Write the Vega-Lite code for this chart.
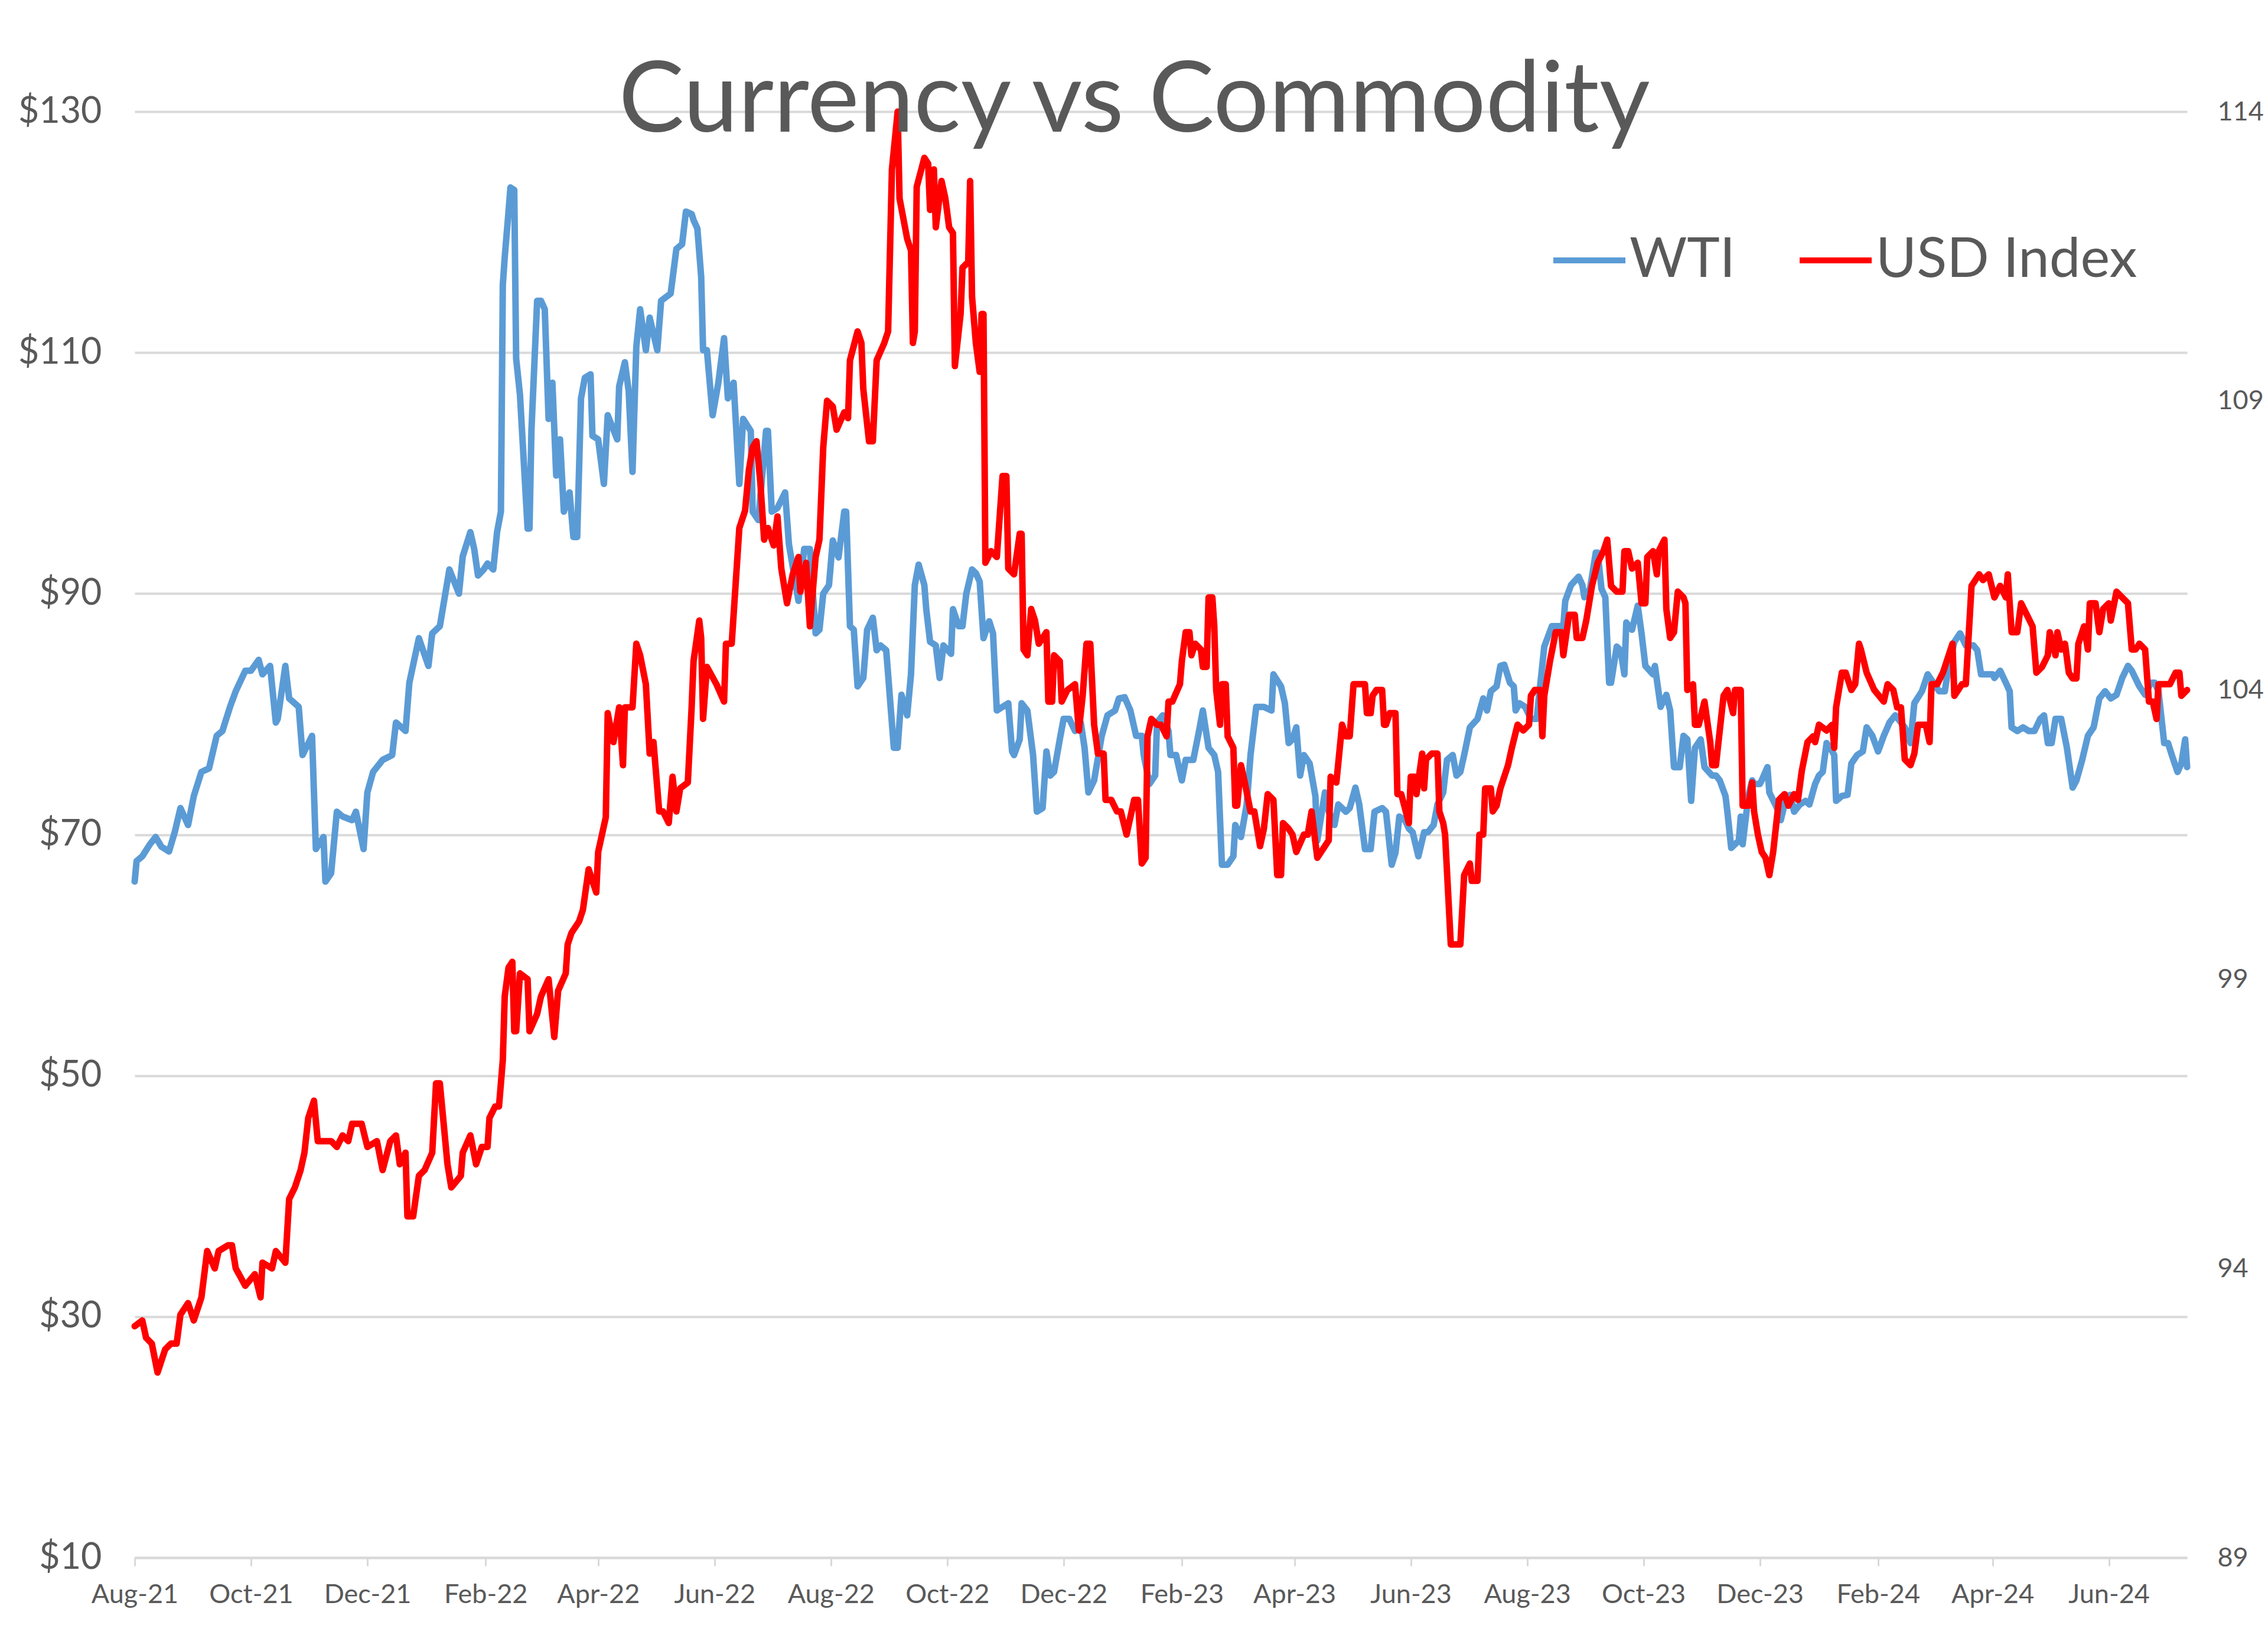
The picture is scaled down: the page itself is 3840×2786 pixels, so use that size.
{
"$schema": "https://vega.github.io/schema/vega-lite/v6.json",
"width": 3475,
"height": 2449,
"autosize": {"type": "none"},
"padding": {"left": 228, "top": 189, "right": 137, "bottom": 148},
"background": "white",
"config": {"view": {"stroke": null}, "font": "Lato"},
"title": {"text": "Currency vs Commodity", "fontSize": 166, "font": "Lato", "fontWeight": "normal", "color": "#595959", "anchor": "middle", "frame": "group", "baseline": "alphabetic", "offset": -36, "dx": -45, "dy": 195},
"datasets": {
"wti": [
{"date":"2021-08-01","value":66.1},{"date":"2021-08-02","value":67.8},{"date":"2021-08-05","value":68.2},{"date":"2021-08-09","value":69.2},{"date":"2021-08-12","value":69.8},{"date":"2021-08-15","value":69.0},{"date":"2021-08-19","value":68.6},{"date":"2021-08-22","value":70.2},{"date":"2021-08-25","value":72.2},{"date":"2021-08-29","value":70.8},
{"date":"2021-09-01","value":73.2},{"date":"2021-09-05","value":75.2},{"date":"2021-09-09","value":75.5},{"date":"2021-09-13","value":78.2},{"date":"2021-09-16","value":78.6},{"date":"2021-09-20","value":80.6},{"date":"2021-09-23","value":81.9},{"date":"2021-09-28","value":83.6},
{"date":"2021-10-01","value":83.6},{"date":"2021-10-05","value":84.5},{"date":"2021-10-07","value":83.3},{"date":"2021-10-11","value":84.0},{"date":"2021-10-14","value":79.3},{"date":"2021-10-15","value":79.6},{"date":"2021-10-19","value":84.0},{"date":"2021-10-21","value":81.3},{"date":"2021-10-26","value":80.6},{"date":"2021-10-28","value":76.6},
{"date":"2021-11-02","value":78.2},{"date":"2021-11-04","value":68.8},{"date":"2021-11-08","value":69.8},{"date":"2021-11-09","value":66.1},{"date":"2021-11-12","value":66.8},{"date":"2021-11-15","value":71.9},{"date":"2021-11-18","value":71.5},{"date":"2021-11-23","value":71.2},{"date":"2021-11-25","value":71.9},{"date":"2021-11-29","value":68.8},
{"date":"2021-12-01","value":73.5},{"date":"2021-12-04","value":75.2},{"date":"2021-12-09","value":76.2},{"date":"2021-12-14","value":76.6},{"date":"2021-12-16","value":79.3},{"date":"2021-12-21","value":78.6},{"date":"2021-12-23","value":82.6},{"date":"2021-12-28","value":86.3},
{"date":"2022-01-02","value":84.0},{"date":"2022-01-04","value":86.7},{"date":"2022-01-08","value":87.3},{"date":"2022-01-13","value":92.0},{"date":"2022-01-18","value":90.0},{"date":"2022-01-20","value":93.1},{"date":"2022-01-24","value":95.1},{"date":"2022-01-26","value":93.7},{"date":"2022-01-28","value":91.5},{"date":"2022-01-31","value":92.0},
{"date":"2022-02-02","value":92.5},{"date":"2022-02-05","value":92.0},{"date":"2022-02-07","value":95.1},{"date":"2022-02-09","value":96.8},{"date":"2022-02-10","value":115.6},{"date":"2022-02-11","value":117.9},{"date":"2022-02-13","value":121.7},{"date":"2022-02-14","value":123.7},{"date":"2022-02-16","value":123.5},{"date":"2022-02-17","value":109.5},{"date":"2022-02-19","value":106.5},{"date":"2022-02-23","value":95.4},{"date":"2022-02-24","value":95.4},{"date":"2022-02-25","value":103.5},{"date":"2022-02-28","value":114.3},
{"date":"2022-03-02","value":114.3},{"date":"2022-03-04","value":113.6},{"date":"2022-03-06","value":104.5},{"date":"2022-03-08","value":107.5},{"date":"2022-03-10","value":99.8},{"date":"2022-03-12","value":102.8},{"date":"2022-03-14","value":96.8},{"date":"2022-03-17","value":98.4},{"date":"2022-03-19","value":94.7},{"date":"2022-03-21","value":94.7},{"date":"2022-03-23","value":106.2},{"date":"2022-03-25","value":107.9},{"date":"2022-03-28","value":108.2},{"date":"2022-03-29","value":103.1},
{"date":"2022-04-01","value":102.8},{"date":"2022-04-04","value":99.1},{"date":"2022-04-06","value":104.8},{"date":"2022-04-11","value":102.8},{"date":"2022-04-12","value":107.2},{"date":"2022-04-15","value":109.2},{"date":"2022-04-17","value":106.8},{"date":"2022-04-19","value":100.1},{"date":"2022-04-21","value":110.5},{"date":"2022-04-23","value":113.6},{"date":"2022-04-26","value":110.2},{"date":"2022-04-28","value":112.9},
{"date":"2022-05-02","value":110.2},{"date":"2022-05-04","value":114.3},{"date":"2022-05-09","value":114.9},{"date":"2022-05-12","value":118.6},{"date":"2022-05-15","value":119.0},{"date":"2022-05-17","value":121.7},{"date":"2022-05-20","value":121.5},{"date":"2022-05-21","value":121.0},{"date":"2022-05-23","value":120.3},{"date":"2022-05-25","value":116.3},{"date":"2022-05-26","value":110.2},{"date":"2022-05-28","value":110.2},{"date":"2022-05-31","value":104.8},
{"date":"2022-06-03","value":107.5},{"date":"2022-06-06","value":111.2},{"date":"2022-06-08","value":106.2},{"date":"2022-06-11","value":107.5},{"date":"2022-06-14","value":99.1},{"date":"2022-06-16","value":104.5},{"date":"2022-06-20","value":103.5},{"date":"2022-06-21","value":96.8},{"date":"2022-06-24","value":96.1},{"date":"2022-06-28","value":103.5},{"date":"2022-06-29","value":103.5},
{"date":"2022-07-01","value":96.8},{"date":"2022-07-04","value":97.1},{"date":"2022-07-08","value":98.4},{"date":"2022-07-10","value":94.1},{"date":"2022-07-15","value":89.4},{"date":"2022-07-18","value":93.7},{"date":"2022-07-21","value":93.7},{"date":"2022-07-24","value":86.7},{"date":"2022-07-26","value":87.0},{"date":"2022-07-28","value":90.0},{"date":"2022-07-31","value":90.7},
{"date":"2022-08-02","value":94.4},{"date":"2022-08-05","value":93.0},{"date":"2022-08-08","value":96.8},{"date":"2022-08-09","value":96.8},{"date":"2022-08-11","value":87.3},{"date":"2022-08-13","value":87.0},{"date":"2022-08-15","value":82.3},{"date":"2022-08-18","value":83.0},{"date":"2022-08-20","value":87.0},{"date":"2022-08-23","value":88.0},{"date":"2022-08-25","value":85.3},{"date":"2022-08-27","value":85.7},{"date":"2022-08-30","value":85.3},{"date":"2022-08-31","value":83.3},
{"date":"2022-09-03","value":77.2},{"date":"2022-09-05","value":77.2},{"date":"2022-09-07","value":81.6},{"date":"2022-09-10","value":79.9},{"date":"2022-09-12","value":83.3},{"date":"2022-09-14","value":90.7},{"date":"2022-09-16","value":92.4},{"date":"2022-09-19","value":90.7},{"date":"2022-09-20","value":88.7},{"date":"2022-09-22","value":86.0},{"date":"2022-09-25","value":85.7},{"date":"2022-09-27","value":83.0},{"date":"2022-09-29","value":85.7},
{"date":"2022-10-03","value":85.0},{"date":"2022-10-04","value":88.7},{"date":"2022-10-07","value":87.3},{"date":"2022-10-09","value":87.3},{"date":"2022-10-11","value":90.0},{"date":"2022-10-14","value":92.0},{"date":"2022-10-16","value":91.7},{"date":"2022-10-18","value":91.0},{"date":"2022-10-20","value":86.3},{"date":"2022-10-23","value":87.7},{"date":"2022-10-25","value":86.7},{"date":"2022-10-27","value":80.3},{"date":"2022-10-30","value":80.6},
{"date":"2022-11-02","value":80.9},{"date":"2022-11-04","value":76.9},{"date":"2022-11-05","value":76.6},{"date":"2022-11-08","value":77.9},{"date":"2022-11-09","value":80.9},{"date":"2022-11-12","value":80.3},{"date":"2022-11-15","value":76.6},{"date":"2022-11-17","value":71.9},{"date":"2022-11-20","value":72.2},{"date":"2022-11-22","value":76.9},{"date":"2022-11-24","value":74.9},{"date":"2022-11-26","value":75.2},{"date":"2022-11-29","value":77.9},
{"date":"2022-12-01","value":79.6},{"date":"2022-12-04","value":79.6},{"date":"2022-12-07","value":78.6},{"date":"2022-12-10","value":79.3},{"date":"2022-12-12","value":77.2},{"date":"2022-12-14","value":73.5},{"date":"2022-12-17","value":74.5},{"date":"2022-12-21","value":78.2},{"date":"2022-12-24","value":79.9},{"date":"2022-12-28","value":80.3},{"date":"2022-12-30","value":81.3},
{"date":"2023-01-02","value":81.4},{"date":"2023-01-05","value":80.3},{"date":"2023-01-08","value":78.2},{"date":"2023-01-11","value":78.2},{"date":"2023-01-12","value":76.6},{"date":"2023-01-15","value":74.2},{"date":"2023-01-18","value":74.9},{"date":"2023-01-19","value":79.3},{"date":"2023-01-22","value":79.9},{"date":"2023-01-25","value":78.6},{"date":"2023-01-26","value":76.6},{"date":"2023-01-29","value":76.6},
{"date":"2023-02-01","value":74.5},{"date":"2023-02-03","value":76.2},{"date":"2023-02-07","value":76.2},{"date":"2023-02-10","value":78.6},{"date":"2023-02-12","value":80.3},{"date":"2023-02-15","value":77.2},{"date":"2023-02-18","value":76.6},{"date":"2023-02-20","value":75.2},{"date":"2023-02-22","value":67.5},{"date":"2023-02-25","value":67.5},{"date":"2023-02-28","value":68.2},
{"date":"2023-03-01","value":70.8},{"date":"2023-03-04","value":69.8},{"date":"2023-03-07","value":72.5},{"date":"2023-03-09","value":76.6},{"date":"2023-03-12","value":80.6},{"date":"2023-03-16","value":80.6},{"date":"2023-03-20","value":80.3},{"date":"2023-03-21","value":83.3},{"date":"2023-03-25","value":82.3},{"date":"2023-03-27","value":80.9},{"date":"2023-03-29","value":77.6},{"date":"2023-03-31","value":77.9},
{"date":"2023-04-02","value":78.9},{"date":"2023-04-04","value":74.9},{"date":"2023-04-06","value":76.6},{"date":"2023-04-09","value":75.9},{"date":"2023-04-12","value":73.2},{"date":"2023-04-13","value":69.5},{"date":"2023-04-15","value":71.5},{"date":"2023-04-17","value":73.5},{"date":"2023-04-19","value":71.9},{"date":"2023-04-22","value":70.8},{"date":"2023-04-24","value":72.5},{"date":"2023-04-28","value":71.9},{"date":"2023-04-30","value":72.2},
{"date":"2023-05-03","value":73.9},{"date":"2023-05-05","value":72.5},{"date":"2023-05-08","value":68.8},{"date":"2023-05-11","value":68.8},{"date":"2023-05-13","value":71.9},{"date":"2023-05-17","value":72.2},{"date":"2023-05-19","value":71.9},{"date":"2023-05-22","value":67.5},{"date":"2023-05-24","value":68.5},{"date":"2023-05-26","value":71.5},{"date":"2023-05-29","value":71.2},{"date":"2023-05-31","value":70.5},
{"date":"2023-06-02","value":70.2},{"date":"2023-06-05","value":68.2},{"date":"2023-06-08","value":70.2},{"date":"2023-06-10","value":70.2},{"date":"2023-06-13","value":70.8},{"date":"2023-06-15","value":72.5},{"date":"2023-06-18","value":73.5},{"date":"2023-06-20","value":76.2},{"date":"2023-06-23","value":76.6},{"date":"2023-06-25","value":74.9},{"date":"2023-06-27","value":75.2},{"date":"2023-06-29","value":76.6},
{"date":"2023-07-02","value":78.9},{"date":"2023-07-06","value":79.6},{"date":"2023-07-09","value":81.3},{"date":"2023-07-11","value":80.3},{"date":"2023-07-13","value":81.9},{"date":"2023-07-16","value":82.3},{"date":"2023-07-18","value":84.0},{"date":"2023-07-20","value":84.1},{"date":"2023-07-23","value":82.6},{"date":"2023-07-25","value":82.3},{"date":"2023-07-26","value":80.3},{"date":"2023-07-28","value":80.9},{"date":"2023-07-31","value":80.6},
{"date":"2023-08-03","value":79.6},{"date":"2023-08-06","value":79.6},{"date":"2023-08-08","value":82.6},{"date":"2023-08-10","value":85.6},{"date":"2023-08-14","value":87.3},{"date":"2023-08-17","value":87.3},{"date":"2023-08-20","value":87.3},{"date":"2023-08-21","value":89.4},{"date":"2023-08-24","value":90.7},{"date":"2023-08-28","value":91.4},{"date":"2023-08-30","value":90.7},{"date":"2023-08-31","value":89.7},
{"date":"2023-09-03","value":90.4},{"date":"2023-09-06","value":93.4},{"date":"2023-09-07","value":93.4},{"date":"2023-09-09","value":90.4},{"date":"2023-09-11","value":89.7},{"date":"2023-09-13","value":82.6},{"date":"2023-09-14","value":82.6},{"date":"2023-09-17","value":85.6},{"date":"2023-09-19","value":85.3},{"date":"2023-09-21","value":83.3},{"date":"2023-09-22","value":87.6},{"date":"2023-09-25","value":87.0},{"date":"2023-09-28","value":89.0},{"date":"2023-09-30","value":86.7},
{"date":"2023-10-02","value":84.0},{"date":"2023-10-06","value":83.3},{"date":"2023-10-07","value":84.0},{"date":"2023-10-10","value":80.6},{"date":"2023-10-13","value":81.6},{"date":"2023-10-15","value":80.3},{"date":"2023-10-17","value":75.6},{"date":"2023-10-20","value":75.6},{"date":"2023-10-22","value":78.2},{"date":"2023-10-24","value":77.9},{"date":"2023-10-26","value":72.8},{"date":"2023-10-28","value":77.2},{"date":"2023-10-31","value":77.9},
{"date":"2023-11-02","value":75.6},{"date":"2023-11-06","value":74.9},{"date":"2023-11-08","value":74.9},{"date":"2023-11-10","value":74.5},{"date":"2023-11-13","value":73.2},{"date":"2023-11-14","value":71.9},{"date":"2023-11-16","value":68.9},{"date":"2023-11-20","value":69.5},{"date":"2023-11-21","value":71.5},{"date":"2023-11-22","value":69.2},{"date":"2023-11-25","value":73.2},{"date":"2023-11-27","value":74.5},{"date":"2023-11-28","value":74.2},
{"date":"2023-12-01","value":74.2},{"date":"2023-12-02","value":74.5},{"date":"2023-12-05","value":75.6},{"date":"2023-12-06","value":73.5},{"date":"2023-12-10","value":72.2},{"date":"2023-12-12","value":71.2},{"date":"2023-12-15","value":73.2},{"date":"2023-12-17","value":73.3},{"date":"2023-12-19","value":71.9},{"date":"2023-12-22","value":72.5},{"date":"2023-12-25","value":72.8},{"date":"2023-12-27","value":72.5},{"date":"2023-12-30","value":74.2},
{"date":"2024-01-01","value":74.9},{"date":"2024-01-03","value":75.2},{"date":"2024-01-05","value":77.6},{"date":"2024-01-08","value":76.9},{"date":"2024-01-09","value":76.6},{"date":"2024-01-10","value":72.8},{"date":"2024-01-13","value":73.2},{"date":"2024-01-16","value":73.3},{"date":"2024-01-18","value":75.9},{"date":"2024-01-21","value":76.6},{"date":"2024-01-24","value":76.9},{"date":"2024-01-26","value":78.9},{"date":"2024-01-29","value":78.2},
{"date":"2024-02-01","value":76.9},{"date":"2024-02-04","value":78.2},{"date":"2024-02-07","value":79.3},{"date":"2024-02-10","value":79.9},{"date":"2024-02-13","value":79.3},{"date":"2024-02-15","value":78.9},{"date":"2024-02-18","value":77.6},{"date":"2024-02-20","value":80.9},{"date":"2024-02-24","value":81.9},{"date":"2024-02-27","value":83.3},
{"date":"2024-03-01","value":82.6},{"date":"2024-03-04","value":81.9},{"date":"2024-03-07","value":81.9},{"date":"2024-03-09","value":84.0},{"date":"2024-03-12","value":86.0},{"date":"2024-03-15","value":86.7},{"date":"2024-03-18","value":85.7},{"date":"2024-03-22","value":85.7},{"date":"2024-03-24","value":85.3},{"date":"2024-03-26","value":83.3},{"date":"2024-03-29","value":83.3},
{"date":"2024-04-01","value":83.3},{"date":"2024-04-02","value":83.0},{"date":"2024-04-05","value":83.6},{"date":"2024-04-08","value":82.6},{"date":"2024-04-10","value":81.9},{"date":"2024-04-11","value":78.9},{"date":"2024-04-14","value":78.6},{"date":"2024-04-17","value":78.9},{"date":"2024-04-20","value":78.6},{"date":"2024-04-23","value":78.6},{"date":"2024-04-26","value":79.6},{"date":"2024-04-28","value":79.9},{"date":"2024-04-30","value":77.6},
{"date":"2024-05-02","value":77.6},{"date":"2024-05-04","value":79.6},{"date":"2024-05-07","value":79.6},{"date":"2024-05-10","value":77.2},{"date":"2024-05-13","value":73.9},{"date":"2024-05-15","value":74.5},{"date":"2024-05-18","value":76.2},{"date":"2024-05-21","value":78.2},{"date":"2024-05-24","value":78.9},{"date":"2024-05-27","value":81.3},{"date":"2024-05-30","value":81.9},
{"date":"2024-06-02","value":81.3},{"date":"2024-06-05","value":81.6},{"date":"2024-06-08","value":83.0},{"date":"2024-06-11","value":84.0},{"date":"2024-06-13","value":83.6},{"date":"2024-06-17","value":82.3},{"date":"2024-06-20","value":81.6},{"date":"2024-06-23","value":82.6},{"date":"2024-06-25","value":82.6},{"date":"2024-06-27","value":81.9},{"date":"2024-06-30","value":77.6},
{"date":"2024-07-02","value":77.6},{"date":"2024-07-04","value":76.6},{"date":"2024-07-07","value":75.2},{"date":"2024-07-09","value":75.9},{"date":"2024-07-11","value":77.9},{"date":"2024-07-12","value":75.6}
],
"usd": [
{"date":"2021-08-01","value":93.0},{"date":"2021-08-05","value":93.1},{"date":"2021-08-07","value":92.8},{"date":"2021-08-10","value":92.7},{"date":"2021-08-13","value":92.2},{"date":"2021-08-17","value":92.6},{"date":"2021-08-20","value":92.7},{"date":"2021-08-23","value":92.7},{"date":"2021-08-25","value":93.2},{"date":"2021-08-29","value":93.4},
{"date":"2021-09-01","value":93.1},{"date":"2021-09-05","value":93.5},{"date":"2021-09-08","value":94.3},{"date":"2021-09-12","value":94.0},{"date":"2021-09-14","value":94.3},{"date":"2021-09-19","value":94.4},{"date":"2021-09-21","value":94.4},{"date":"2021-09-23","value":94.0},{"date":"2021-09-28","value":93.7},
{"date":"2021-10-03","value":93.9},{"date":"2021-10-06","value":93.5},{"date":"2021-10-07","value":94.1},{"date":"2021-10-12","value":94.0},{"date":"2021-10-14","value":94.3},{"date":"2021-10-19","value":94.1},{"date":"2021-10-21","value":95.2},{"date":"2021-10-24","value":95.4},{"date":"2021-10-27","value":95.7},{"date":"2021-10-29","value":96.0},{"date":"2021-10-31","value":96.6},
{"date":"2021-11-03","value":96.9},{"date":"2021-11-05","value":96.2},{"date":"2021-11-08","value":96.2},{"date":"2021-11-12","value":96.2},{"date":"2021-11-15","value":96.1},{"date":"2021-11-18","value":96.3},{"date":"2021-11-21","value":96.2},{"date":"2021-11-23","value":96.5},{"date":"2021-11-28","value":96.5},
{"date":"2021-12-01","value":96.1},{"date":"2021-12-06","value":96.2},{"date":"2021-12-09","value":95.7},{"date":"2021-12-13","value":96.2},{"date":"2021-12-16","value":96.3},{"date":"2021-12-18","value":95.8},{"date":"2021-12-21","value":96.0},{"date":"2021-12-22","value":94.9},{"date":"2021-12-25","value":94.9},{"date":"2021-12-28","value":95.6},{"date":"2021-12-31","value":95.7},
{"date":"2022-01-04","value":96.0},{"date":"2022-01-06","value":97.2},{"date":"2022-01-08","value":97.2},{"date":"2022-01-12","value":95.8},{"date":"2022-01-14","value":95.4},{"date":"2022-01-19","value":95.6},{"date":"2022-01-20","value":96.0},{"date":"2022-01-24","value":96.3},{"date":"2022-01-27","value":95.8},{"date":"2022-01-30","value":96.1},
{"date":"2022-02-02","value":96.1},{"date":"2022-02-03","value":96.6},{"date":"2022-02-06","value":96.8},{"date":"2022-02-08","value":96.8},{"date":"2022-02-10","value":97.6},{"date":"2022-02-11","value":98.7},{"date":"2022-02-13","value":99.2},{"date":"2022-02-15","value":99.3},{"date":"2022-02-16","value":98.1},{"date":"2022-02-17","value":98.1},{"date":"2022-02-19","value":99.1},{"date":"2022-02-23","value":99.0},{"date":"2022-02-24","value":98.1},{"date":"2022-02-28","value":98.4},
{"date":"2022-03-02","value":98.7},{"date":"2022-03-06","value":99.0},{"date":"2022-03-09","value":98.0},{"date":"2022-03-11","value":98.8},{"date":"2022-03-15","value":99.1},{"date":"2022-03-16","value":99.6},{"date":"2022-03-18","value":99.8},{"date":"2022-03-22","value":100.0},{"date":"2022-03-24","value":100.2},{"date":"2022-03-27","value":100.9},{"date":"2022-03-31","value":100.5},
{"date":"2022-04-01","value":101.2},{"date":"2022-04-05","value":101.8},{"date":"2022-04-06","value":103.6},{"date":"2022-04-09","value":103.1},{"date":"2022-04-12","value":103.7},{"date":"2022-04-14","value":102.7},{"date":"2022-04-15","value":103.7},{"date":"2022-04-19","value":103.7},{"date":"2022-04-21","value":104.8},{"date":"2022-04-23","value":104.6},{"date":"2022-04-26","value":104.1},{"date":"2022-04-28","value":102.9},{"date":"2022-04-30","value":103.1},
{"date":"2022-05-03","value":101.9},{"date":"2022-05-05","value":101.9},{"date":"2022-05-08","value":101.7},{"date":"2022-05-10","value":102.5},{"date":"2022-05-12","value":101.9},{"date":"2022-05-14","value":102.3},{"date":"2022-05-18","value":102.4},{"date":"2022-05-20","value":103.7},{"date":"2022-05-21","value":104.5},{"date":"2022-05-24","value":105.2},{"date":"2022-05-25","value":104.9},{"date":"2022-05-26","value":103.5},{"date":"2022-05-28","value":104.4},
{"date":"2022-06-02","value":104.1},{"date":"2022-06-06","value":103.8},{"date":"2022-06-07","value":104.8},{"date":"2022-06-10","value":104.8},{"date":"2022-06-12","value":105.8},{"date":"2022-06-14","value":106.8},{"date":"2022-06-17","value":107.1},{"date":"2022-06-19","value":107.8},{"date":"2022-06-21","value":108.2},{"date":"2022-06-23","value":108.3},{"date":"2022-06-25","value":107.6},{"date":"2022-06-27","value":106.6},{"date":"2022-06-29","value":106.8},
{"date":"2022-07-02","value":106.5},{"date":"2022-07-04","value":107.0},{"date":"2022-07-06","value":106.1},{"date":"2022-07-09","value":105.5},{"date":"2022-07-12","value":106.0},{"date":"2022-07-15","value":106.3},{"date":"2022-07-16","value":105.7},{"date":"2022-07-19","value":106.2},{"date":"2022-07-21","value":105.1},{"date":"2022-07-24","value":106.3},{"date":"2022-07-26","value":106.6},{"date":"2022-07-28","value":108.2},{"date":"2022-07-30","value":109.0},
{"date":"2022-08-02","value":108.9},{"date":"2022-08-04","value":108.5},{"date":"2022-08-08","value":108.8},{"date":"2022-08-10","value":108.7},{"date":"2022-08-11","value":109.7},{"date":"2022-08-15","value":110.2},{"date":"2022-08-17","value":110.0},{"date":"2022-08-18","value":109.2},{"date":"2022-08-21","value":108.3},{"date":"2022-08-23","value":108.3},{"date":"2022-08-25","value":109.7},{"date":"2022-08-29","value":110.0},{"date":"2022-08-31","value":110.2},
{"date":"2022-09-02","value":113.0},{"date":"2022-09-05","value":114.0},{"date":"2022-09-06","value":112.5},{"date":"2022-09-10","value":111.8},{"date":"2022-09-12","value":111.6},{"date":"2022-09-13","value":110.0},{"date":"2022-09-14","value":110.2},{"date":"2022-09-15","value":112.7},{"date":"2022-09-19","value":113.2},{"date":"2022-09-21","value":113.1},{"date":"2022-09-22","value":112.3},{"date":"2022-09-24","value":113.0},{"date":"2022-09-25","value":112.0},{"date":"2022-09-28","value":112.8},{"date":"2022-09-30","value":112.5},
{"date":"2022-10-02","value":112.0},{"date":"2022-10-04","value":111.9},{"date":"2022-10-05","value":109.6},{"date":"2022-10-08","value":110.5},{"date":"2022-10-09","value":111.3},{"date":"2022-10-12","value":111.4},{"date":"2022-10-13","value":112.8},{"date":"2022-10-14","value":110.8},{"date":"2022-10-16","value":110.0},{"date":"2022-10-18","value":109.5},{"date":"2022-10-19","value":110.5},{"date":"2022-10-20","value":110.5},{"date":"2022-10-21","value":106.2},{"date":"2022-10-24","value":106.4},{"date":"2022-10-27","value":106.3},{"date":"2022-10-30","value":107.7},
{"date":"2022-11-01","value":107.7},{"date":"2022-11-02","value":106.1},{"date":"2022-11-05","value":106.0},{"date":"2022-11-08","value":106.7},{"date":"2022-11-09","value":106.7},{"date":"2022-11-10","value":104.7},{"date":"2022-11-12","value":104.6},{"date":"2022-11-14","value":105.4},{"date":"2022-11-16","value":105.2},{"date":"2022-11-18","value":104.8},{"date":"2022-11-22","value":105.0},{"date":"2022-11-23","value":103.8},{"date":"2022-11-25","value":103.8},{"date":"2022-11-26","value":104.6},{"date":"2022-11-29","value":104.5},{"date":"2022-11-30","value":103.8},
{"date":"2022-12-03","value":104.0},{"date":"2022-12-07","value":104.1},{"date":"2022-12-09","value":103.3},{"date":"2022-12-11","value":103.9},{"date":"2022-12-13","value":104.8},{"date":"2022-12-15","value":104.8},{"date":"2022-12-17","value":103.4},{"date":"2022-12-19","value":102.9},{"date":"2022-12-22","value":102.9},{"date":"2022-12-23","value":102.1},{"date":"2022-12-26","value":102.1},{"date":"2022-12-29","value":101.9},{"date":"2022-12-31","value":101.9},
{"date":"2023-01-03","value":101.5},{"date":"2023-01-07","value":102.1},{"date":"2023-01-09","value":102.1},{"date":"2023-01-11","value":101.0},{"date":"2023-01-13","value":101.1},{"date":"2023-01-14","value":103.2},{"date":"2023-01-16","value":103.5},{"date":"2023-01-19","value":103.4},{"date":"2023-01-21","value":103.4},{"date":"2023-01-24","value":103.2},{"date":"2023-01-25","value":103.8},{"date":"2023-01-27","value":103.8},{"date":"2023-01-31","value":104.1},
{"date":"2023-02-01","value":104.5},{"date":"2023-02-03","value":105.0},{"date":"2023-02-05","value":105.0},{"date":"2023-02-06","value":104.6},{"date":"2023-02-08","value":104.8},{"date":"2023-02-11","value":104.7},{"date":"2023-02-12","value":104.4},{"date":"2023-02-14","value":104.4},{"date":"2023-02-15","value":105.6},{"date":"2023-02-17","value":105.6},{"date":"2023-02-18","value":105.1},{"date":"2023-02-19","value":104.0},{"date":"2023-02-21","value":103.4},{"date":"2023-02-22","value":104.1},{"date":"2023-02-24","value":104.1},{"date":"2023-02-25","value":103.2},{"date":"2023-02-28","value":103.0},
{"date":"2023-03-01","value":102.0},{"date":"2023-03-02","value":102.0},{"date":"2023-03-04","value":102.7},{"date":"2023-03-06","value":102.4},{"date":"2023-03-09","value":101.9},{"date":"2023-03-11","value":101.9},{"date":"2023-03-14","value":101.3},{"date":"2023-03-16","value":101.6},{"date":"2023-03-18","value":102.2},{"date":"2023-03-21","value":102.1},{"date":"2023-03-23","value":100.8},{"date":"2023-03-25","value":100.8},{"date":"2023-03-26","value":101.7},{"date":"2023-03-29","value":101.6},{"date":"2023-03-31","value":101.5},
{"date":"2023-04-02","value":101.2},{"date":"2023-04-06","value":101.5},{"date":"2023-04-08","value":101.5},{"date":"2023-04-10","value":101.9},{"date":"2023-04-13","value":101.1},{"date":"2023-04-15","value":101.2},{"date":"2023-04-19","value":101.4},{"date":"2023-04-20","value":102.5},{"date":"2023-04-23","value":102.4},{"date":"2023-04-26","value":103.4},{"date":"2023-04-28","value":103.2},{"date":"2023-04-30","value":103.2},
{"date":"2023-05-02","value":104.1},{"date":"2023-05-04","value":104.1},{"date":"2023-05-08","value":104.1},{"date":"2023-05-09","value":103.6},{"date":"2023-05-11","value":103.6},{"date":"2023-05-12","value":103.9},{"date":"2023-05-14","value":104.0},{"date":"2023-05-17","value":104.0},{"date":"2023-05-18","value":103.4},{"date":"2023-05-19","value":103.4},{"date":"2023-05-21","value":103.6},{"date":"2023-05-24","value":103.6},{"date":"2023-05-25","value":102.2},{"date":"2023-05-27","value":102.2},{"date":"2023-05-31","value":101.7},
{"date":"2023-06-01","value":102.5},{"date":"2023-06-03","value":102.5},{"date":"2023-06-04","value":102.2},{"date":"2023-06-07","value":102.9},{"date":"2023-06-08","value":102.3},{"date":"2023-06-09","value":102.8},{"date":"2023-06-12","value":102.9},{"date":"2023-06-15","value":102.9},{"date":"2023-06-16","value":101.9},{"date":"2023-06-18","value":101.7},{"date":"2023-06-19","value":101.5},{"date":"2023-06-22","value":99.6},{"date":"2023-06-25","value":99.6},{"date":"2023-06-27","value":99.6},{"date":"2023-06-29","value":100.8},
{"date":"2023-07-02","value":101.0},{"date":"2023-07-03","value":100.7},{"date":"2023-07-06","value":100.7},{"date":"2023-07-07","value":101.5},{"date":"2023-07-09","value":101.5},{"date":"2023-07-10","value":102.3},{"date":"2023-07-13","value":102.3},{"date":"2023-07-14","value":101.9},{"date":"2023-07-16","value":102.0},{"date":"2023-07-18","value":102.3},{"date":"2023-07-19","value":102.4},{"date":"2023-07-22","value":102.7},{"date":"2023-07-24","value":103.0},{"date":"2023-07-27","value":103.4},{"date":"2023-07-30","value":103.3},
{"date":"2023-08-02","value":103.4},{"date":"2023-08-03","value":103.9},{"date":"2023-08-05","value":104.0},{"date":"2023-08-08","value":104.0},{"date":"2023-08-09","value":103.2},{"date":"2023-08-10","value":103.9},{"date":"2023-08-13","value":104.5},{"date":"2023-08-16","value":105.0},{"date":"2023-08-19","value":105.0},{"date":"2023-08-20","value":104.6},{"date":"2023-08-23","value":105.3},{"date":"2023-08-26","value":105.3},{"date":"2023-08-27","value":104.9},{"date":"2023-08-30","value":104.9},
{"date":"2023-09-01","value":105.2},{"date":"2023-09-04","value":105.8},{"date":"2023-09-07","value":106.2},{"date":"2023-09-10","value":106.4},{"date":"2023-09-12","value":106.6},{"date":"2023-09-14","value":105.8},{"date":"2023-09-17","value":105.7},{"date":"2023-09-20","value":105.7},{"date":"2023-09-21","value":106.4},{"date":"2023-09-23","value":106.4},{"date":"2023-09-25","value":106.1},{"date":"2023-09-28","value":106.2},{"date":"2023-09-30","value":105.5},
{"date":"2023-10-02","value":105.5},{"date":"2023-10-03","value":106.3},{"date":"2023-10-06","value":106.4},{"date":"2023-10-08","value":106.0},{"date":"2023-10-09","value":106.4},{"date":"2023-10-12","value":106.6},{"date":"2023-10-13","value":105.4},{"date":"2023-10-15","value":104.9},{"date":"2023-10-17","value":105.0},{"date":"2023-10-19","value":105.7},{"date":"2023-10-22","value":105.6},{"date":"2023-10-23","value":105.5},{"date":"2023-10-24","value":104.0},{"date":"2023-10-27","value":104.1},{"date":"2023-10-28","value":103.4},{"date":"2023-10-30","value":103.4},
{"date":"2023-11-02","value":103.8},{"date":"2023-11-05","value":103.1},{"date":"2023-11-06","value":102.7},{"date":"2023-11-08","value":102.7},{"date":"2023-11-10","value":103.3},{"date":"2023-11-12","value":103.9},{"date":"2023-11-14","value":104.0},{"date":"2023-11-17","value":103.6},{"date":"2023-11-18","value":104.0},{"date":"2023-11-21","value":104.0},{"date":"2023-11-22","value":102.0},{"date":"2023-11-25","value":102.0},{"date":"2023-11-27","value":102.4},{"date":"2023-11-28","value":101.9},{"date":"2023-11-30","value":101.5},
{"date":"2023-12-02","value":101.2},{"date":"2023-12-04","value":101.1},{"date":"2023-12-06","value":100.8},{"date":"2023-12-08","value":101.2},{"date":"2023-12-11","value":102.1},{"date":"2023-12-14","value":102.2},{"date":"2023-12-16","value":102.0},{"date":"2023-12-19","value":102.2},{"date":"2023-12-21","value":102.1},{"date":"2023-12-23","value":102.6},{"date":"2023-12-26","value":103.1},{"date":"2023-12-29","value":103.2},{"date":"2023-12-30","value":103.1},
{"date":"2024-01-01","value":103.4},{"date":"2024-01-05","value":103.3},{"date":"2024-01-08","value":103.4},{"date":"2024-01-09","value":103.0},{"date":"2024-01-10","value":103.7},{"date":"2024-01-13","value":104.3},{"date":"2024-01-15","value":104.3},{"date":"2024-01-18","value":104.0},{"date":"2024-01-20","value":104.1},{"date":"2024-01-22","value":104.8},{"date":"2024-01-23","value":104.7},{"date":"2024-01-26","value":104.3},{"date":"2024-01-30","value":104.0},
{"date":"2024-02-04","value":103.8},{"date":"2024-02-06","value":104.1},{"date":"2024-02-09","value":104.0},{"date":"2024-02-11","value":103.7},{"date":"2024-02-13","value":103.7},{"date":"2024-02-15","value":102.8},{"date":"2024-02-18","value":102.7},{"date":"2024-02-20","value":102.9},{"date":"2024-02-22","value":103.4},{"date":"2024-02-26","value":103.4},{"date":"2024-02-28","value":103.1},{"date":"2024-02-29","value":104.1},
{"date":"2024-03-03","value":104.1},{"date":"2024-03-06","value":104.3},{"date":"2024-03-08","value":104.5},{"date":"2024-03-11","value":104.8},{"date":"2024-03-12","value":103.9},{"date":"2024-03-16","value":104.1},{"date":"2024-03-18","value":104.1},{"date":"2024-03-21","value":105.8},{"date":"2024-03-23","value":105.9},{"date":"2024-03-25","value":106.0},{"date":"2024-03-27","value":105.9},{"date":"2024-03-30","value":106.0},
{"date":"2024-04-02","value":105.6},{"date":"2024-04-05","value":105.8},{"date":"2024-04-08","value":105.6},{"date":"2024-04-09","value":106.0},{"date":"2024-04-11","value":105.0},{"date":"2024-04-14","value":105.0},{"date":"2024-04-16","value":105.5},{"date":"2024-04-19","value":105.3},{"date":"2024-04-22","value":105.1},{"date":"2024-04-24","value":104.3},{"date":"2024-04-27","value":104.4},{"date":"2024-04-30","value":104.6},
{"date":"2024-05-01","value":105.0},{"date":"2024-05-04","value":104.6},{"date":"2024-05-05","value":105.0},{"date":"2024-05-07","value":104.7},{"date":"2024-05-09","value":104.8},{"date":"2024-05-11","value":104.3},{"date":"2024-05-13","value":104.2},{"date":"2024-05-15","value":104.2},{"date":"2024-05-16","value":104.8},{"date":"2024-05-19","value":105.1},{"date":"2024-05-21","value":104.7},{"date":"2024-05-22","value":105.5},{"date":"2024-05-25","value":105.5},{"date":"2024-05-27","value":105.0},{"date":"2024-05-29","value":105.4},
{"date":"2024-06-01","value":105.5},{"date":"2024-06-02","value":105.2},{"date":"2024-06-05","value":105.7},{"date":"2024-06-08","value":105.6},{"date":"2024-06-11","value":105.5},{"date":"2024-06-13","value":104.7},{"date":"2024-06-15","value":104.7},{"date":"2024-06-17","value":104.8},{"date":"2024-06-20","value":104.7},{"date":"2024-06-22","value":103.8},{"date":"2024-06-24","value":103.8},{"date":"2024-06-26","value":103.5},{"date":"2024-06-27","value":104.1},{"date":"2024-06-30","value":104.1},
{"date":"2024-07-03","value":104.1},{"date":"2024-07-06","value":104.3},{"date":"2024-07-08","value":104.3},{"date":"2024-07-09","value":103.9},{"date":"2024-07-12","value":104.0}
]
},
"layer": [
{
"data": {"name": "wti"},
"mark": {"type": "line", "strokeWidth": 11, "strokeJoin": "round", "strokeCap": "round"},
"encoding": {
"x": {"field": "date", "type": "temporal",
"scale": {"domain": [{"year": 2021, "month": 8, "date": 1}, {"year": 2024, "month": 7, "date": 12}], "nice": false},
"axis": {"title": null, "format": "%b-%y", "labelFontSize": 45, "labelColor": "#595959", "labelFont": "Lato", "labelPadding": 26, "tickSize": 14, "tickWidth": 3, "tickColor": "#D9D9D9", "domainColor": "#D9D9D9", "domainWidth": 4, "grid": false, "labelFlush": false, "labelOverlap": false,
"values": [{"year":2021,"month":8,"date":1},{"year":2021,"month":10,"date":1},{"year":2021,"month":12,"date":1},{"year":2022,"month":2,"date":1},{"year":2022,"month":4,"date":1},{"year":2022,"month":6,"date":1},{"year":2022,"month":8,"date":1},{"year":2022,"month":10,"date":1},{"year":2022,"month":12,"date":1},{"year":2023,"month":2,"date":1},{"year":2023,"month":4,"date":1},{"year":2023,"month":6,"date":1},{"year":2023,"month":8,"date":1},{"year":2023,"month":10,"date":1},{"year":2023,"month":12,"date":1},{"year":2024,"month":2,"date":1},{"year":2024,"month":4,"date":1},{"year":2024,"month":6,"date":1}]}},
"y": {"field": "value", "type": "quantitative",
"scale": {"domain": [10, 130], "nice": false, "zero": false},
"axis": {"title": null, "values": [10, 30, 50, 70, 90, 110, 130], "format": "$.0f", "labelFontSize": 61, "labelColor": "#595959", "labelFont": "Lato", "labelPadding": 56, "ticks": false, "domain": false, "grid": true, "gridColor": "#D9D9D9", "gridWidth": 4}},
"color": {"datum": "WTI", "type": "nominal",
"scale": {"domain": ["WTI", "USD Index"], "range": ["#5B9BD5", "#FF0000"]},
"legend": {"title": null, "orient": "none", "legendX": 2397, "legendY": 186, "direction": "horizontal", "symbolType": "stroke", "symbolSize": 14884, "symbolStrokeWidth": 10, "labelFontSize": 94, "labelFont": "Lato", "labelColor": "#595959", "labelOffset": 2, "labelLimit": 2000, "columnPadding": 88, "padding": 0, "symbolOpacity": 1}}
}
},
{
"data": {"name": "usd"},
"mark": {"type": "line", "strokeWidth": 11, "strokeJoin": "round", "strokeCap": "round"},
"encoding": {
"x": {"field": "date", "type": "temporal"},
"y": {"field": "value", "type": "quantitative",
"scale": {"domain": [89, 114], "nice": false, "zero": false},
"axis": {"title": null, "orient": "right", "values": [89, 94, 99, 104, 109, 114], "labelFontSize": 45, "labelColor": "#595959", "labelFont": "Lato", "labelPadding": 51, "ticks": false, "domain": false, "grid": false}},
"color": {"datum": "USD Index", "type": "nominal"}
}
}
],
"resolve": {"scale": {"y": "independent"}}
}
